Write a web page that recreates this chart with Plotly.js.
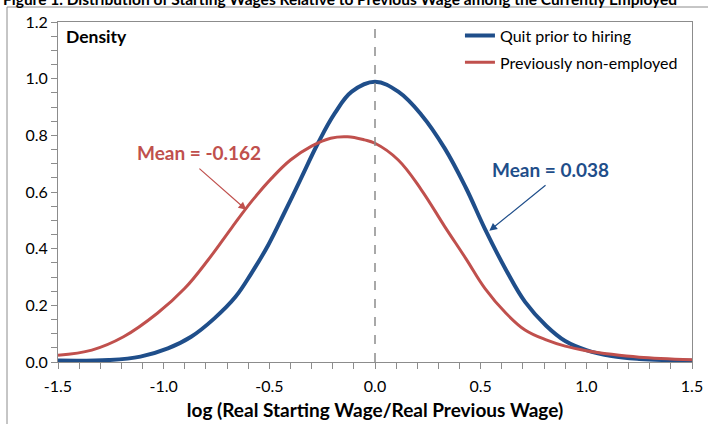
<!DOCTYPE html>
<html>
<head>
<meta charset="utf-8">
<script src="https://cdn.plot.ly/plotly-3.0.1.min.js"></script>
<style>html,body{margin:0;padding:0;background:#fff;}#chart{width:708px;height:424px;}</style>
</head>
<body>
<div id="chart"></div>
<script>
const quitX = [-1.5, -1.26, -1.11, -0.98, -0.87, -0.76, -0.66, -0.585, -0.505, -0.43, -0.35, -0.27, -0.19, -0.11, 0.0, 0.11, 0.22, 0.33, 0.43, 0.52, 0.62, 0.71, 0.81, 0.90, 1.0, 1.12, 1.25, 1.5];
const quitY = [0.005, 0.007, 0.019, 0.048, 0.089, 0.154, 0.23, 0.313, 0.413, 0.525, 0.648, 0.772, 0.878, 0.954, 0.989, 0.954, 0.872, 0.754, 0.615, 0.47, 0.325, 0.212, 0.128, 0.074, 0.042, 0.021, 0.011, 0.004];
const nonEmpX = [-1.5, -1.34, -1.19, -1.03, -0.90, -0.79, -0.68, -0.585, -0.49, -0.40, -0.30, -0.21, -0.13, -0.05, 0.0, 0.11, 0.22, 0.33, 0.43, 0.52, 0.62, 0.71, 0.81, 0.90, 1.0, 1.12, 1.25, 1.5];
const nonEmpY = [0.024, 0.042, 0.089, 0.172, 0.26, 0.36, 0.472, 0.566, 0.648, 0.713, 0.762, 0.79, 0.795, 0.784, 0.772, 0.713, 0.607, 0.478, 0.365, 0.26, 0.172, 0.113, 0.078, 0.056, 0.04, 0.027, 0.017, 0.008];
const seriesNames = ["Quit prior to hiring", "Previously non-employed"];
const meanLabels = ["Mean = 0.038", "Mean = -0.162"];
const xTickVals = [-1.5, -1.0, -0.5, 0.0, 0.5, 1.0, 1.5];
const yTickVals = [0.0, 0.2, 0.4, 0.6, 0.8, 1.0, 1.2];

const BLUE = "#1F4E8A", RED = "#C0504D", AX = "#8C8C8C";
const FONT = "Lato, 'Open Sans', sans-serif";

const traces = [
  {x: quitX, y: quitY, name: seriesNames[0], mode: "lines", legendgroup: "a",
   line: {color: BLUE, width: 4, shape: "spline", smoothing: 1.1}},
  {x: nonEmpX, y: nonEmpY, name: seriesNames[1], mode: "lines", legendgroup: "b",
   line: {color: RED, width: 3, shape: "spline", smoothing: 1.1}}
];

const layout = {
  width: 708, height: 424,
  margin: {l: 58, r: 16, t: 22, b: 62},
  paper_bgcolor: "#fff", plot_bgcolor: "#fff",
  font: {family: FONT, size: 16, color: "#000"},
  showlegend: true,
  legend: {x: 0.634, y: 1.01, xanchor: "left", yanchor: "top", bgcolor: "rgba(0,0,0,0)",
           traceorder: "grouped", tracegroupgap: 3, font: {family: FONT, size: 16, color: "#000"}},
  xaxis: {range: [-1.5, 1.5], tickvals: xTickVals, ticktext: xTickVals.map(v => v.toFixed(1)),
          showgrid: false, zeroline: false, showline: true, linecolor: AX, linewidth: 1, mirror: true,
          ticks: "outside", ticklen: 6, tickcolor: AX, ticklabelstandoff: 4,
          minor: {dtick: 0.1, ticks: "outside", ticklen: 6, tickcolor: AX, showgrid: false},
          tickfont: {family: FONT, size: 16, color: "#000"},
          title: {text: "<b>log (Real Starting Wage/Real Previous Wage)</b>", standoff: 9,
                  font: {family: FONT, size: 19, color: "#000"}}},
  yaxis: {range: [0, 1.2], tickvals: yTickVals, ticktext: yTickVals.map(v => v.toFixed(1)),
          showgrid: false, zeroline: false, showline: true, linecolor: AX, linewidth: 1, mirror: true,
          ticks: "outside", ticklen: 6, tickcolor: AX,
          minor: {dtick: 0.05, ticks: "outside", ticklen: 6, tickcolor: AX, showgrid: false},
          tickfont: {family: FONT, size: 16, color: "#000"}},
  shapes: [
    {type: "line", xref: "x", yref: "y", x0: 0, x1: 0, y0: 0, y1: 1.2, layer: "above",
     line: {color: "#8C8C8C", width: 1.5, dash: "dash"}},
    {type: "rect", xref: "paper", yref: "paper", x0: -51/634, x1: 662/634, y0: -80/340, y1: 1 + 15/340,
     line: {color: "#8C8C8C", width: 1}, fillcolor: "rgba(0,0,0,0)", layer: "below"}
  ],
  annotations: [
    {xref: "paper", yref: "paper", x: -57/634, y: 1 + 23.5/340, xanchor: "left", yanchor: "middle", showarrow: false,
     text: "<b>Figure 1. Distribution of Starting Wages Relative to Previous Wage among the Currently Employed</b>",
     font: {family: FONT, size: 15.5, color: "#000"}},
    {xref: "paper", yref: "paper", x: 6/634, y: 1 - 15/340, xanchor: "left", yanchor: "middle", showarrow: false,
     text: "<b>Density</b>", font: {family: FONT, size: 17.5, color: "#000"}},
    {xref: "x", yref: "y", x: -0.833, y: 0.741, showarrow: false, text: "<b>" + meanLabels[1] + "</b>",
     font: {family: FONT, size: 19, color: RED}},
    {xref: "x", yref: "y", x: 0.831, y: 0.678, showarrow: false, text: "<b>" + meanLabels[0] + "</b>",
     font: {family: FONT, size: 19, color: BLUE}},
    {xref: "x", yref: "y", axref: "x", ayref: "y", x: -0.609, y: 0.537, ax: -0.838, ay: 0.687, text: "",
     showarrow: true, arrowhead: 2, arrowsize: 1.3, arrowwidth: 1.2, arrowcolor: RED},
    {xref: "x", yref: "y", axref: "x", ayref: "y", x: 0.541, y: 0.463, ax: 0.814, ay: 0.628, text: "",
     showarrow: true, arrowhead: 2, arrowsize: 1.3, arrowwidth: 1.2, arrowcolor: BLUE}
  ]
};

Plotly.newPlot("chart", traces, layout, {staticPlot: true, displayModeBar: false});
</script>
</body>
</html>
